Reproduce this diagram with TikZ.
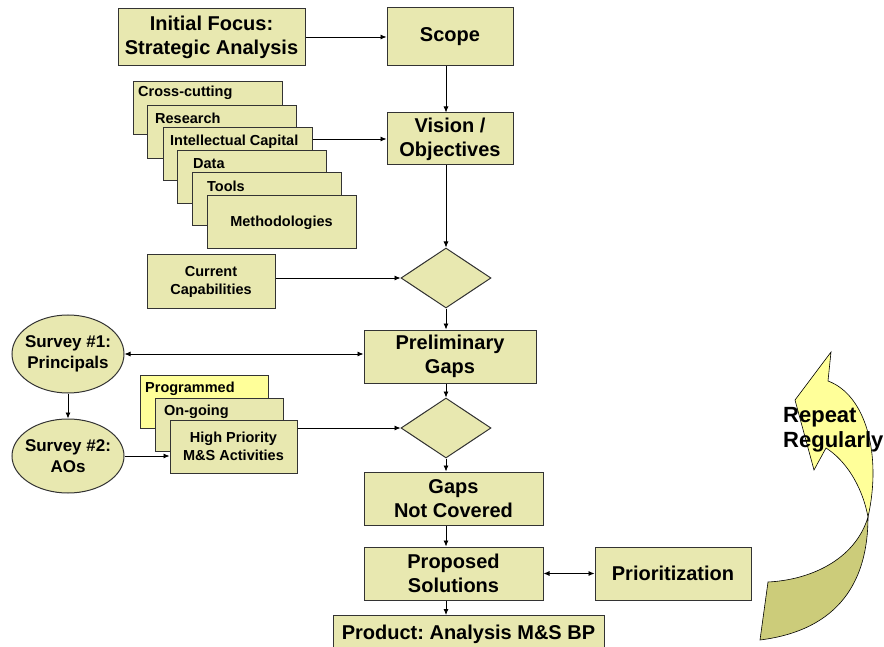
\documentclass[tikz,border=0pt]{standalone}
\usepackage{fontspec}
\setmainfont{Liberation Sans}
\usetikzlibrary{arrows.meta,shapes.geometric}
\definecolor{boxfill}{RGB}{232,232,176}
\definecolor{progfill}{RGB}{255,255,153}
\definecolor{arrowolive}{RGB}{204,204,122}
\definecolor{arrowyellow}{RGB}{255,255,153}
\frenchspacing
\tikzset{
  base/.style={draw=black!80, line width=1pt, fill=boxfill, inner sep=0pt, align=center},
  mainbox/.style={base, rectangle, font=\bfseries\fontsize{20}{24}\selectfont},
  smallbox/.style={base, rectangle, minimum width=149pt, minimum height=53pt},
  txtsmall/.style={inner sep=0pt, align=center, font=\bfseries\fontsize{14.5}{18}\selectfont},
  survey/.style={base, ellipse, inner xsep=-4pt, minimum width=112pt, font=\bfseries\fontsize{17}{21}\selectfont},
  decision/.style={base, diamond, minimum width=90pt, minimum height=60pt},
  arr/.style={draw=black, line width=0.8pt, -{Latex[length=6pt,width=5pt]}},
  arrboth/.style={draw=black, line width=0.8pt, {Latex[length=6pt,width=5pt]}-{Latex[length=6pt,width=5pt]}}
}
\begin{document}
\begin{tikzpicture}[x=1pt,y=-1pt]
\useasboundingbox (0,0) rectangle (884,647);
\fill[white] (0,0) rectangle (884,647);

% main column
\node[mainbox, minimum width=187pt, minimum height=57pt] (init) at (211.5,37) {Initial Focus:\\Strategic Analysis};
\node[mainbox, minimum width=126pt, minimum height=58pt] (scope) at (450,37) {Scope};
\node[mainbox, minimum width=126pt, minimum height=52pt] (vision) at (450,139) {Vision /\\Objectives};
\node[decision] (d1) at (446,278) {};
\node[mainbox, minimum width=172pt, minimum height=53pt] (prelim) at (450,356.5) {Preliminary\\Gaps};
\node[decision] (d2) at (446,428) {};
\node[mainbox, minimum width=179pt, minimum height=53pt] (gaps) at (453.5,498.5) {Gaps\\Not Covered};
\node[mainbox, minimum width=179pt, minimum height=53pt] (prop) at (453.5,573.5) {Proposed\\Solutions};
\node[mainbox, minimum width=156pt, minimum height=53pt] (prio) at (673,573.5) {Prioritization};
\node[mainbox, minimum width=271pt, minimum height=40pt, anchor=north west] (prod) at (333,615) {};
\node[inner sep=0pt, font=\bfseries\fontsize{20}{24}\selectfont] (prodtxt) at (468.5,634) {Product: Analysis M\&S BP};

% stacked boxes group 1
\node[smallbox] (cross) at (207.5,108.5) {};
\node[txtsmall, anchor=west] (crosst) at (138,93) {Cross-cutting};
\node[smallbox] (res) at (221.5,132.5) {};
\node[txtsmall, anchor=west] (rest) at (155,118) {Research};
\node[smallbox] (ic) at (237.5,154.5) {};
\node[txtsmall, anchor=west] (ict) at (170,141.5) {Intellectual Capital};
\node[smallbox] (data) at (251.5,177.5) {};
\node[txtsmall, anchor=west] (datat) at (193,164) {Data};
\node[smallbox] (tools) at (266.5,199.5) {};
\node[txtsmall, anchor=west] (toolst) at (207,186.5) {Tools};
\node[smallbox, txtsmall, draw=black!80, line width=1pt] (meth) at (281.5,222.5) {Methodologies};

% current capabilities
\node[base, rectangle, minimum width=128pt, minimum height=53pt, font=\bfseries\fontsize{14.5}{18}\selectfont] (cc) at (211,281.5) {Current\\Capabilities};

% surveys
\node[survey, minimum height=78pt] (s1) at (68,354) {Survey \#1:\\Principals};
\node[survey, minimum height=74pt] (s2) at (68,456) {Survey \#2:\\AOs};

% stacked boxes group 2
\node[base, rectangle, fill=progfill, minimum width=128pt, minimum height=53pt] (prog) at (204,401.5) {};
\node[txtsmall, anchor=west] (progt) at (145,389) {Programmed};
\node[base, rectangle, minimum width=128pt, minimum height=53pt] (ong) at (219,424.5) {};
\node[txtsmall, anchor=west] (ongt) at (164,411.5) {On-going};
\node[base, rectangle, minimum width=127pt, minimum height=53pt, font=\bfseries\fontsize{14.5}{18}\selectfont] (hp) at (233.5,446.5) {High Priority\\M\&S Activities};

% connectors
\draw[arr] (init.east |- scope.west) -- (scope.west);
\draw[arr] (scope.south -| d1) -- (vision.north -| d1);
\draw[arr] (ic.east |- vision.west) -- (vision.west);
\draw[arr] (vision.south -| d1) -- (d1.north);
\draw[arr] (cc.east |- d1.west) -- (d1.west);
\draw[arr] (d1.south) -- (d1.south |- prelim.north);
\draw[arrboth] (s1.east) -- (s1.east -| prelim.west);
\draw[arr] (s1.south) -- (s2.north);
\draw[arr] (prelim.south -| d2) -- (d2.north);
\draw[arr] (hp.east |- d2.west) -- (d2.west);
\draw[arr] (s2.east) -- (s2.east -| hp.west);
\draw[arr] (d2.south) -- (d2.south |- gaps.north);
\draw[arr] (gaps.south -| d2) -- (prop.north -| d2);
\draw[arrboth] (prop.east) -- (prio.west);
\draw[arr] (prop.south -| d2) -- (prod.north -| d2);

% curved "repeat" arrow
\filldraw[fill=arrowolive, draw=black, line width=0.6pt]
  (768,582) .. controls (810,580) and (855,560) .. (868,517)
  .. controls (868,580) and (840,630) .. (760,640) -- cycle;
\filldraw[fill=arrowyellow, draw=black, line width=0.6pt]
  (868,517) .. controls (882,455) and (866,395) .. (828,381)
  -- (831,352) -- (795,400) -- (814,470) -- (826,448)
  .. controls (845,460) and (862,485) .. (868,517) -- cycle;
\node[inner sep=0pt, anchor=west, align=left, font=\bfseries\fontsize{22}{25}\selectfont] (rep) at (783,430) {Repeat\\Regularly};
\end{tikzpicture}
\end{document}
